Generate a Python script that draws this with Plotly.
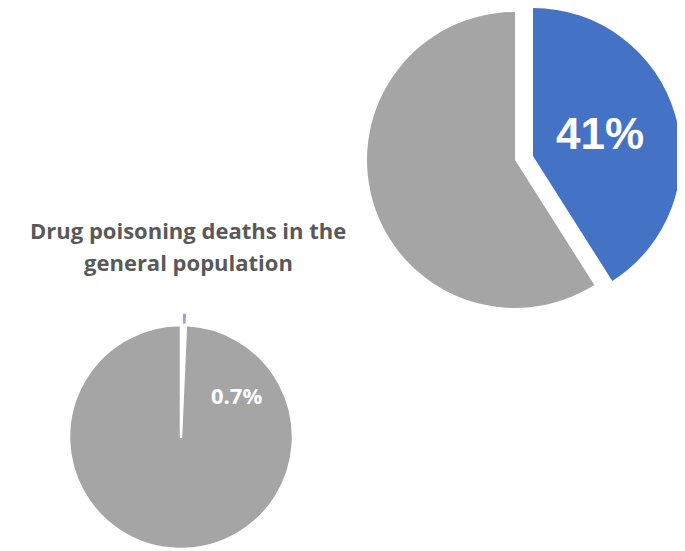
import plotly.graph_objects as go

W, H = 685, 551
OFF = 8  # page body margin

# Data
categories = ["Drug poisoning deaths", "Other"]
high_risk_share = [41, 59]          # large pie (%)
general_pop_share = [0.7, 99.3]     # small pie (%)
small_title_lines = ["Drug poisoning deaths in the", "general population"]

BLUE = "#4472C4"
GRAY = "#A5A5A5"
TXT = "#595959"


def px(x, y):
    return (x - OFF) / W, 1 - (y - OFF) / H


def dom(cx, cy, r):
    x0, y1 = px(cx - r, cy - r)
    x1, y0 = px(cx + r, cy + r)
    return dict(x=[max(0, x0), min(1, x1)], y=[max(0, y0), min(1, y1)])


def pie(values, colors, domain, line_w=0):
    return go.Pie(labels=categories, values=values, sort=False,
                  direction="clockwise", rotation=0, textinfo="none",
                  hoverinfo="label+percent", domain=domain,
                  marker=dict(colors=colors, line=dict(color="white", width=line_w)),
                  showlegend=False)


fig = go.Figure()
# Large pie: gray remainder and exploded blue slice
fig.add_trace(pie(high_risk_share, ["rgba(0,0,0,0)", GRAY], dom(515, 160, 148)))
fig.add_trace(pie(high_risk_share, [BLUE, "rgba(0,0,0,0)"], dom(533, 156, 148)))
# Small pie: exploded tiny blue slice under a gray pie with a white gap
fig.add_trace(pie(general_pop_share, ["#8FA8DC", "rgba(0,0,0,0)"], dom(182, 425, 112), line_w=1.5))
fig.add_trace(pie(general_pop_share, ["white", GRAY], dom(181, 437, 112), line_w=2.5))


def label(x, y, text, size, family, color):
    ax, ay = px(x, y)
    fig.add_annotation(x=ax, y=ay, xref="paper", yref="paper", text=f"<b>{text}</b>",
                       showarrow=False, font=dict(family=family, size=size, color=color),
                       xanchor="center", yanchor="middle")


label(600, 134, f"{high_risk_share[0]:g}%", 44, "Liberation Sans, Arial", "white")
label(236, 395, f"{general_pop_share[0]:g}%", 22, "Open Sans", "white")
label(188, 230, small_title_lines[0], 22, "Open Sans", TXT)
label(188, 262, small_title_lines[1], 22, "Open Sans", TXT)

fig.update_layout(width=W, height=H, margin=dict(l=0, r=0, t=0, b=0),
                  paper_bgcolor="white", plot_bgcolor="white")
fig.write_html("out.html")
